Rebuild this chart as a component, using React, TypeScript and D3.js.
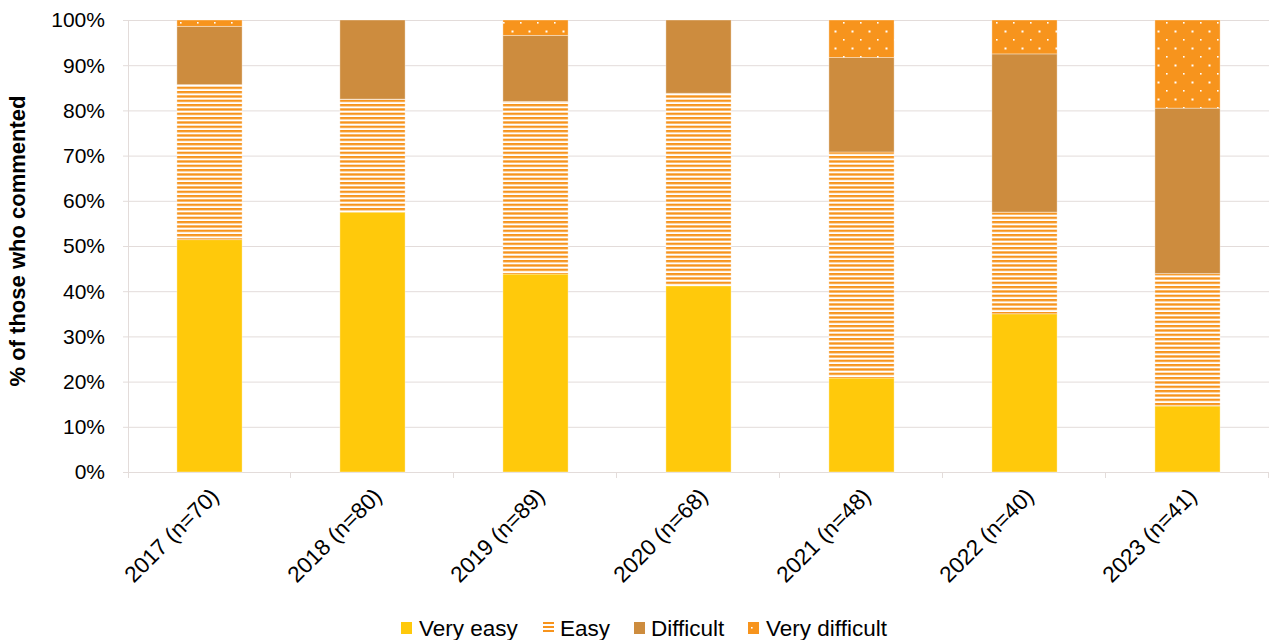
import React from "react";
import * as d3 from "d3";

const categories = ["2017 (n=70)", "2018 (n=80)", "2019 (n=89)", "2020 (n=68)", "2021 (n=48)", "2022 (n=40)", "2023 (n=41)"];
const seriesNames = ["Very easy", "Easy", "Difficult", "Very difficult"];
const veryEasy = [51.4, 57.5, 43.8, 41.2, 20.8, 35.0, 14.6];
const easy = [34.3, 25.0, 38.2, 42.6, 50.0, 22.5, 29.3];
const difficult = [12.9, 17.5, 14.6, 16.2, 20.9, 35.0, 36.6];
const veryDifficult = [1.4, 0.0, 3.4, 0.0, 8.3, 7.5, 19.5];
const yTicks = [0, 10, 20, 30, 40, 50, 60, 70, 80, 90, 100];

const W = 1271, H = 640;
const M = { left: 128, right: 1269, top: 20, bottom: 472 };
const ORANGE = "#F7941D";
const fills = ["#FFC90B", "url(#easyPat)", "#CD8C3E", "url(#dotPat)"];
const legendFills = ["#FFC90B", "url(#easyPatL)", "#CD8C3E", "url(#dotPatL)"];
const FONT = "'Liberation Sans', Arial, sans-serif";

export default function App() {
  const x = d3.scaleBand<string>().domain(categories).range([M.left, M.right]).paddingInner(0.6).paddingOuter(0.3);
  const y = d3.scaleLinear().domain([0, 100]).range([M.bottom, M.top]);
  const rows = categories.map((c, i) => ({
    cat: c,
    "Very easy": veryEasy[i],
    Easy: easy[i],
    Difficult: difficult[i],
    "Very difficult": veryDifficult[i],
  }));
  const stacked = d3.stack<any>().keys(seriesNames)(rows);
  const step = x.step();
  const gridColor = "#E3DCDA";

  const legendItems = [
    { x: 401, tx: 419 },
    { x: 543, tx: 560 },
    { x: 634, tx: 651 },
    { x: 748, tx: 766 },
  ];

  return (
    <svg width={W} height={H} style={{ position: "absolute", left: 0, top: 0, background: "#fff" }} fontFamily={FONT}>
      <defs>
        <pattern id="easyPat" patternUnits="userSpaceOnUse" width={10} height={13 / 3}>
          <rect width={10} height={13 / 3} fill="#FFFFFF" />
          <rect y={0} width={10} height={2.3} fill={ORANGE} />
        </pattern>
        <pattern id="easyPatL" patternUnits="userSpaceOnUse" x={0} y={618} width={10} height={4}>
          <rect width={10} height={4} fill="#FFFFFF" />
          <rect y={0} width={10} height={2} fill={ORANGE} />
        </pattern>
        <pattern id="dotPat" patternUnits="userSpaceOnUse" x={M.left} y={M.top} width={17} height={17}>
          <rect width={17} height={17} fill={ORANGE} />
          <rect x={1} y={2} width={1.6} height={1.6} fill="#fff" />
          <rect x={9.5} y={10.5} width={2} height={2} fill="#fff" />
        </pattern>
        <pattern id="dotPatL" patternUnits="userSpaceOnUse" x={748} y={620} width={12} height={12}>
          <rect width={12} height={12} fill={ORANGE} />
          <rect x={3} y={7} width={1.6} height={1.6} fill="#fff" />
        </pattern>
      </defs>

      {/* gridlines */}
      {yTicks.map((t) => (
        <line key={"g" + t} x1={M.left - 5} x2={M.right} y1={y(t) + 0.5} y2={y(t) + 0.5} stroke={gridColor} strokeWidth={1} />
      ))}
      {/* y axis line */}
      <line x1={M.left + 0.5} x2={M.left + 0.5} y1={M.top} y2={M.bottom} stroke={gridColor} />
      {/* x ticks */}
      {categories.map((c, i) => {
        const xx = M.left + step * (i + 1);
        return <line key={"xt" + i} x1={xx - 0.5} x2={xx - 0.5} y1={M.bottom} y2={M.bottom + 6} stroke={gridColor} />;
      })}
      <line x1={M.left + 0.5} x2={M.left + 0.5} y1={M.bottom} y2={M.bottom + 6} stroke={gridColor} />

      {/* bars */}
      {stacked.map((s, si) => (
        <g key={s.key}>
          {s.map((d, i) =>
            d[1] - d[0] > 0 ? (
              <rect
                key={i}
                x={x(categories[i])!}
                width={x.bandwidth()}
                y={y(d[1])}
                height={y(d[0]) - y(d[1])}
                fill={fills[si]}
                stroke="#ffffff"
                strokeOpacity={0.45}
                strokeWidth={0.8}
              />
            ) : null
          )}
        </g>
      ))}

      {/* y tick labels */}
      {yTicks.map((t) => (
        <text key={"yl" + t} x={M.left - 23} y={y(t)} dy="0.35em" textAnchor="end" fontSize={21} fill="#000">
          {t}%
        </text>
      ))}

      {/* y axis title */}
      <text transform={`translate(25,${(M.top + M.bottom) / 2 - 5}) rotate(-90)`} textAnchor="middle" fontSize={22} fontWeight="bold" fill="#000">
        % of those who commented
      </text>

      {/* x labels */}
      {categories.map((c) => {
        const cx = x(c)! + x.bandwidth() / 2;
        return (
          <text key={"xl" + c} transform={`translate(${cx + 5},${M.bottom + 20}) rotate(-45)`} textAnchor="end" dy="0.35em" fontSize={22.5} fill="#000">
            {c}
          </text>
        );
      })}

      {/* legend */}
      {seriesNames.map((n, i) => (
        <g key={"lg" + n}>
          <rect x={legendItems[i].x} y={622} width={11} height={12} fill={legendFills[i]} />
          <text x={legendItems[i].tx} y={628} dy="0.35em" fontSize={22.5} fill="#000">
            {n}
          </text>
        </g>
      ))}
    </svg>
  );
}
